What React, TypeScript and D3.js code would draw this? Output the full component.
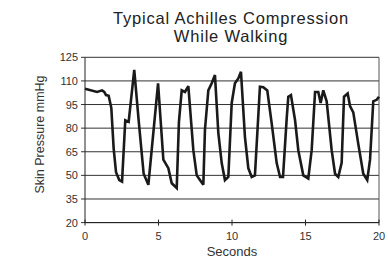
import React from "react";
import * as d3 from "d3";

const times = [0, 0.82, 1.16, 1.31, 1.43, 1.61, 1.79, 1.95, 2.11, 2.33, 2.52, 2.74, 2.97, 3.35, 3.65, 3.99, 4.31, 4.97, 5.33, 5.67, 5.9, 6.24, 6.39, 6.58, 6.8, 7.03, 7.37, 7.6, 7.82, 8.05, 8.16, 8.39, 8.62, 8.84, 9.07, 9.3, 9.52, 9.75, 9.98, 10.2, 10.43, 10.61, 10.88, 11.11, 11.34, 11.56, 11.9, 12.13, 12.4, 12.7, 13.04, 13.27, 13.47, 13.72, 13.83, 14.01, 14.29, 14.51, 14.85, 15.19, 15.42, 15.65, 15.87, 16.03, 16.21, 16.44, 16.78, 17.01, 17.23, 17.46, 17.62, 17.87, 18.03, 18.25, 18.59, 18.93, 19.2, 19.39, 19.61, 19.84, 20];
const pressure = [105, 103, 104, 103, 101, 100.6, 92.8, 67, 52, 47, 46, 85, 84, 117, 85, 51, 44, 108.5, 60, 54.6, 45, 42, 84, 104, 103, 106.7, 66, 50, 47, 44, 79, 104, 108.5, 113.7, 77, 57.8, 47, 49, 96, 108.5, 111.6, 115.8, 74.5, 54.6, 49, 50, 106.3, 106, 104, 83, 57.8, 49, 49, 86, 100, 101, 85, 66, 50, 48, 66, 103, 103, 96, 104, 97, 66, 51, 49, 58, 100, 102, 94, 90, 70, 51, 47, 60, 97, 98, 100];
const yTicks = [20, 35, 50, 65, 80, 95, 110, 125];
const xTicks = [0, 5, 10, 15, 20];
const titleLines = ["Typical Achilles Compression", "While Walking"];
const yLabel = "Skin Pressure mmHg";
const xLabel = "Seconds";

export default function App() {
  const W = 388, H = 259;
  const left = 85, right = 379, top = 57.3, bottom = 222.6;
  const x = d3.scaleLinear().domain([0, 20]).range([left, right]);
  const y = d3.scaleLinear().domain([20, 125]).range([bottom, top]);
  const data = times.map((t, i) => [t, pressure[i]] as [number, number]);
  const line = d3.line<[number, number]>().x(d => x(d[0])).y(d => y(d[1]));
  const font = "Arial, 'Liberation Sans', sans-serif";
  const cx = (left + right) / 2;
  return (
    <svg width={W} height={H} style={{ position: "absolute", left: 0, top: 0, background: "#fff" }}>
      <g fontFamily={font}>
        {titleLines.map((t, i) => (
          <text key={i} x={cx - 1} y={23.5 + i * 18.6} textAnchor="middle" fontSize={16.5} letterSpacing={0.8} fill="#222">{t}</text>
        ))}
        {yTicks.map(v => (
          <g key={v}>
            <line x1={left - 4} x2={right} y1={y(v)} y2={y(v)} stroke="#333" strokeWidth={1} />
            <text x={left - 7} y={y(v) + 4} textAnchor="end" fontSize={11} fill="#333">{v}</text>
          </g>
        ))}
        <line x1={left} x2={left} y1={top} y2={bottom} stroke="#222" strokeWidth={1} />
        <line x1={right} x2={right} y1={top} y2={bottom} stroke="#555" strokeWidth={1} />
        <line x1={left} x2={right} y1={bottom} y2={bottom} stroke="#222" strokeWidth={1} />
        {xTicks.map(v => (
          <g key={v}>
            <line x1={x(v)} x2={x(v)} y1={bottom - 3} y2={bottom + 3} stroke="#222" strokeWidth={1} />
            <text x={x(v)} y={bottom + 17} textAnchor="middle" fontSize={11} fill="#333">{v}</text>
          </g>
        ))}
        <path d={line(data) || ""} fill="none" stroke="#1a1a1a" strokeWidth={2.6} strokeLinejoin="miter" strokeMiterlimit={3} />
        <text x={cx} y={bottom + 33.5} textAnchor="middle" fontSize={13} fill="#333">{xLabel}</text>
        <text transform={`translate(44, 134.5) rotate(-90)`} textAnchor="middle" fontSize={12.5} fill="#333">{yLabel}</text>
      </g>
    </svg>
  );
}
